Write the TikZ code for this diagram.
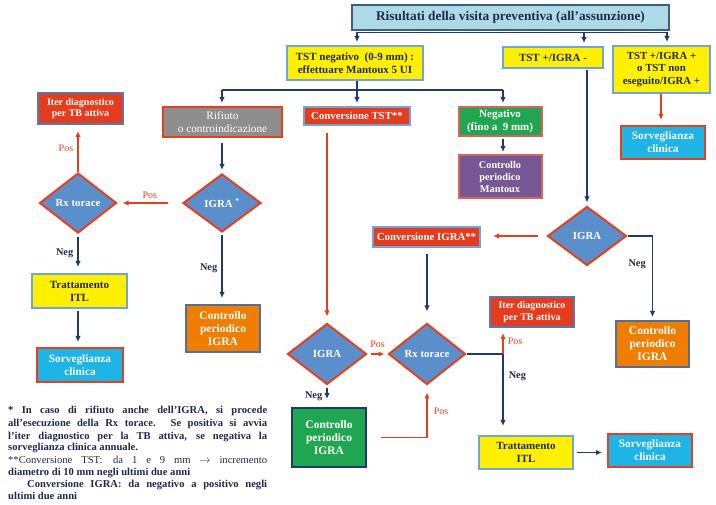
\documentclass[tikz,border=0pt]{standalone}
\usepackage{fontspec}
\setmainfont{Liberation Serif}
\usetikzlibrary{shapes.geometric,arrows.meta,calc}
\definecolor{navy}{HTML}{1F3A6E}
\definecolor{txtnavy}{HTML}{1F2A4F}
\definecolor{redl}{HTML}{E5401E}
\definecolor{redfill}{HTML}{E63C1E}
\definecolor{titlefill}{HTML}{AEDAE8}
\definecolor{titlebord}{HTML}{3C5E80}
\definecolor{yel}{HTML}{FFF000}
\definecolor{lbord}{HTML}{6FA5D8}
\definecolor{bbord}{HTML}{5878B0}
\definecolor{sbord}{HTML}{4F6F9F}
\definecolor{salm}{HTML}{D8635A}
\definecolor{dfill}{HTML}{5B8FCB}
\definecolor{grayf}{HTML}{8E8E8E}
\definecolor{greenf}{HTML}{20A650}
\definecolor{purp}{HTML}{765796}
\definecolor{orng}{HTML}{EE7D00}
\definecolor{cyanf}{HTML}{1EB4E6}
\tikzset{
  bx/.style={draw, line width=2pt, align=center, inner sep=1pt, text=white,
    font=\bfseries\fontsize{10.8}{12.5}\selectfont},
  ybx/.style={bx, fill=yel, draw=lbord, text=txtnavy, font=\bfseries\fontsize{11}{13}\selectfont},
  sorvbx/.style={bx, fill=cyanf, draw=redl, font=\bfseries\fontsize{11.3}{13}\selectfont},
  ctrlbx/.style={bx, fill=orng, draw=sbord, font=\bfseries\fontsize{11.5}{13}\selectfont},
  iterbx/.style={bx, fill=redfill, draw=bbord, font=\bfseries\fontsize{10}{11.5}\selectfont},
  convbx/.style={bx, fill=redfill, draw=lbord, font=\bfseries\fontsize{10.8}{12}\selectfont},
  dia/.style={diamond, aspect=1.3, draw=redl, fill=dfill, line width=2pt, inner sep=0pt,
    text=white, font=\bfseries\fontsize{10.8}{12}\selectfont},
  darr/.style={draw=navy, line width=1.6pt, -{Latex[length=6pt,width=5.5pt]}},
  dline/.style={draw=navy, line width=1.6pt},
  rarr/.style={draw=redl, line width=1.6pt, -{Latex[length=6pt,width=5.5pt]}},
  plab/.style={text=redl, inner sep=1pt, font=\fontsize{10}{11}\selectfont},
  nlab/.style={text=txtnavy, inner sep=1pt, font=\bfseries\fontsize{10.3}{11}\selectfont},
  fn/.style={text=txtnavy, inner sep=0pt, anchor=base west, font=\bfseries\fontsize{10.6}{11}\selectfont},
  fnr/.style={fn, font=\fontsize{10.6}{11}\selectfont},
}
\begin{document}
\begin{tikzpicture}[x=1pt,y=-1pt]
\useasboundingbox[fill=white] (0,0) rectangle (716,505);

% ---- nodes
\node[bx, fill=titlefill, draw=titlebord, text=txtnavy, line width=2.3pt,
  minimum width=317pt, minimum height=25pt, font=\bfseries\fontsize{13.3}{15}\selectfont]
  (title) at (510.5,17.5) {Risultati della visita preventiva (all’assunzione)};
\node[ybx, minimum width=136pt, minimum height=34pt]
  (tstneg) at (355,63) {TST negativo~~(0-9 mm) :\\effettuare Mantoux 5 UI};
\node[ybx, minimum width=100pt, minimum height=21pt]
  (tstpm) at (553,57.5) {TST +/IGRA -};
\node[ybx, minimum width=97pt, minimum height=47pt, font=\bfseries\fontsize{10.8}{12.3}\selectfont]
  (tstpp) at (661.5,69.5) {TST +/IGRA +\\o TST non\\eseguito/IGRA +};
\node[sorvbx, minimum width=84pt, minimum height=33pt] (sorv1) at (663,142.5) {Sorveglianza\\clinica};

\node[bx, fill=grayf, draw=redl, font=\fontsize{11.3}{12.5}\selectfont,
  minimum width=119pt, minimum height=30pt] (rif) at (222.5,122) {Rifiuto\\o controindicazione};
\node[convbx, minimum width=106pt, minimum height=18pt] (convtst) at (357,116) {Conversione TST**};
\node[bx, fill=greenf, draw=salm, font=\bfseries\fontsize{11}{12.5}\selectfont,
  minimum width=83pt, minimum height=29pt]
  (negat) at (500,121.5) {Negativo\\(fino a~~9 mm)};
\node[bx, fill=purp, draw=salm, font=\bfseries\fontsize{10.3}{12}\selectfont,
  minimum width=83pt, minimum height=43pt]
  (mant) at (500,176.5) {Controllo\\periodico\\Mantoux};

\node[iterbx, minimum width=85pt, minimum height=31pt] (iter1) at (80.5,108.5) {Iter diagnostico\\per TB attiva};
\node[dia, minimum width=77pt, minimum height=60pt] (rx1) at (78,203) {Rx torace};
\node[dia, minimum width=78pt, minimum height=58pt] (igra1) at (222,203) {IGRA \textsuperscript{*}};
\node[ybx, minimum width=95pt, minimum height=34pt]
  (itl1) at (79.5,291) {Trattamento\\ITL};
\node[sorvbx, minimum width=86pt, minimum height=34pt] (sorv2) at (80,365) {Sorveglianza\\clinica};
\node[ctrlbx, minimum width=74pt, minimum height=47pt] (ctrl1) at (223,328.5) {Controllo\\periodico\\IGRA};

\node[convbx, minimum width=107pt, minimum height=20pt] (convigra) at (426.5,237) {Conversione IGRA**};
\node[dia, minimum width=79pt, minimum height=59pt] (igra3) at (587,236) {IGRA};
\node[ctrlbx, minimum width=73pt, minimum height=46pt] (ctrl2) at (652.5,344) {Controllo\\periodico\\IGRA};

\node[dia, minimum width=79pt, minimum height=61pt] (igra2) at (327,354) {IGRA};
\node[dia, minimum width=77pt, minimum height=61pt] (rx2) at (427,354) {Rx torace};
\node[iterbx, minimum width=84pt, minimum height=30pt] (iter2) at (532,312) {Iter diagnostico\\per TB attiva};
\node[ybx, minimum width=94pt, minimum height=33pt]
  (itl2) at (526,452.5) {Trattamento\\ITL};
\node[sorvbx, minimum width=84pt, minimum height=33pt] (sorv3) at (650,450.5) {Sorveglianza\\clinica};
\node[bx, fill=greenf, draw=navy, font=\bfseries\fontsize{11.5}{13}\selectfont,
  minimum width=74pt, minimum height=59pt] (ctrl3) at (329,437.5) {Controllo\\periodico\\IGRA};

% ---- coordinates
\coordinate (b1L) at (357,32.5);
\coordinate (b1M) at (584,32.5);
\coordinate (b1R) at (667,32.5);
\coordinate (b2C) at (357,90);
\coordinate (b2L) at (222,90);
\coordinate (b2R) at (503,90);
\coordinate (j2) at (503,354);
\coordinate (s1x) at (661,0);

% ---- connectors
\draw[dline] (b1L) -- (b1R);
\draw[darr, shorten >=3pt] (b1L) -- (b1L |- tstneg.north);
\draw[darr, shorten >=3pt] (b1M) -- (b1M |- tstpm.north);
\draw[darr, shorten >=3pt] (b1R) -- (b1R |- tstpp.north);

\draw[dline] (b2C |- tstneg.south) -- (b2C);
\draw[dline] (b2L) -- (b2R);
\draw[darr, shorten >=3pt] (b2L) -- (b2L |- rif.north);
\draw[darr, shorten >=3pt] (b2C) -- (b2C |- convtst.north);
\draw[darr, shorten >=3pt] (b2R) -- (b2R |- negat.north);

\draw[darr, shorten <=2pt, shorten >=2pt] (b2R |- negat.south) -- (b2R |- mant.north);
\draw[rarr, shorten >=5pt] (s1x |- tstpp.south) -- (s1x |- sorv1.north);

\draw[darr, shorten <=5pt, shorten >=3pt] (igra1.north |- rif.south) -- (igra1.north);
\draw[rarr, shorten <=14pt, shorten >=5pt] (igra1.west) -- node[plab, above=3pt] (lp1) {Pos} (rx1.east);
\draw[rarr, shorten >=6pt] (rx1.north) -- node[plab, left=3pt] (lp2) {Pos} (rx1.north |- iter1.south);
\draw[darr, shorten <=3pt, shorten >=6pt] (rx1.south) -- node[nlab, left=3pt] (ln1) {Neg} (rx1.south |- itl1.north);
\draw[darr, shorten <=2pt, shorten >=5pt] (rx1.south |- itl1.south) -- (rx1.south |- sorv2.north);
\draw[darr, shorten <=2pt, shorten >=6pt] (igra1.south) -- node[nlab, left=3pt] (ln2) {Neg} (igra1.south |- ctrl1.north);

\draw[rarr, shorten <=7pt, shorten >=6pt] (convtst.south -| igra2.north) -- (igra2.north);
\draw[rarr, shorten <=3pt, shorten >=3pt] (igra2.east) -- node[plab, above=5pt] (lp3) {Pos} (rx2.west);
\draw[darr, shorten <=6pt, shorten >=11pt] (rx2.north |- convigra.south) -- (rx2.north);
\draw[rarr, shorten <=9pt, shorten >=12pt] (igra3.west) -- (convigra.east |- igra3.west);
\draw[darr, shorten >=3pt] (igra3.east) -| node[nlab, pos=0.67, left=5pt] (ln3) {Neg} (ctrl2.north);
\draw[darr, shorten <=1pt, shorten >=3pt] (tstpm.south -| igra3.north) -- (igra3.north);

\draw[dline] (rx2.east) -- (j2);
\draw[rarr, shorten >=5pt] (j2) -- node[plab, right=3pt] (lp4) {Pos} (j2 |- iter2.south);
\draw[darr, shorten >=9pt] (j2) -- node[nlab, pos=0.28, right=4pt] (ln4) {Neg} (j2 |- itl2.north);
\draw[darr, shorten <=3pt, shorten >=5pt] (itl2.east) -- (sorv3.west |- itl2.east);
\draw[darr, shorten <=3pt, shorten >=8pt] (igra2.south) -- node[nlab, left=3pt] (ln5) {Neg} (igra2.south |- ctrl3.north);
\draw[rarr, shorten <=14pt, shorten >=7pt] (ctrl3.east) -| node[plab, pos=0.75, right=5pt] (lp5) {Pos} (rx2.south);

% ---- footnote
\node[fn] (f1) at (8,414) {\makebox[259pt][s]{* In caso di rifiuto anche dell’IGRA, si procede}};
\node[fn] (f2) at (8,426.5) {\makebox[259pt][s]{all’esecuzione della Rx torace. Se positiva si avvia}};
\node[fn] (f3) at (8,439) {\makebox[259pt][s]{l’iter diagnostico per la TB attiva, se negativa la}};
\node[fn] (f4) at (8,451) {sorveglianza clinica annuale.};
\node[fnr] (f5) at (8,463.5) {\makebox[259pt][s]{**Conversione TST:\quad da 1 e 9 mm $\rightarrow$ incremento}};
\node[fn] (f6) at (8,475.5) {diametro di 10 mm negli ultimi due anni};
\node[fn] (f7) at (27,487.5) {\makebox[240pt][s]{Conversione IGRA: da negativo a positivo negli}};
\node[fn] (f8) at (8,499.5) {ultimi due anni};
\end{tikzpicture}
\end{document}
